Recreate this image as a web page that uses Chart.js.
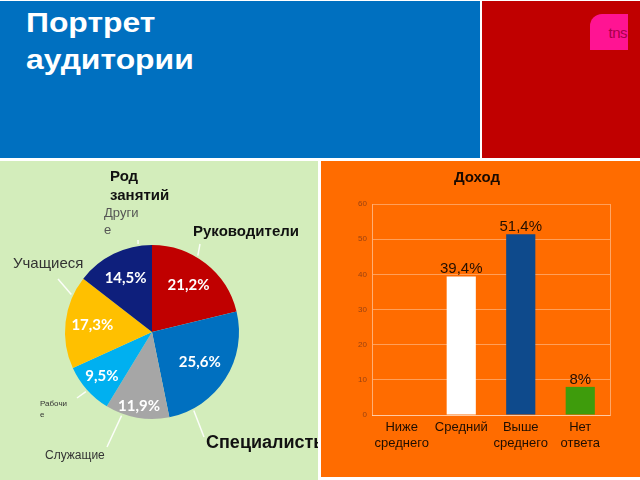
<!DOCTYPE html>
<html>
<head>
<meta charset="utf-8">
<script src="https://cdn.jsdelivr.net/npm/chart.js"></script>
<style>
  html, body { margin: 0; padding: 0; background: #fff; }
  body { width: 640px; height: 480px; position: relative; overflow: hidden; font-family: "Liberation Sans", Arial, sans-serif; }
  .panel { position: absolute; }
  #head { left: 0; top: 1px; width: 480px; height: 157px; background: #0070C0; }
  #corner { left: 482px; top: 1px; width: 158px; height: 157px; background: #C00000; }
  #left { left: 0; top: 161px; width: 318px; height: 319px; background: #D3EDBB; }
  #right { left: 321px; top: 161px; width: 319px; height: 316px; background: #FF6C00; }
  .title { position: absolute; left: 26px; color: #fff; font-weight: bold; font-size: 27px; line-height: 27px;
           transform: scaleX(1.18); transform-origin: 0 0; white-space: nowrap; }
  #logo { position: absolute; left: 590px; top: 14px; width: 38px; height: 36px; background: #FF1493;
          border-top-left-radius: 12px; }
  #logo span { position: absolute; right: 1px; top: 10px; font-size: 15px; color: #A8004A; letter-spacing: -0.5px; }
  canvas { position: absolute; }
</style>
</head>
<body>
<div class="panel" id="head"></div>
<div class="panel" id="corner"></div>
<div class="panel" id="left"></div>
<div class="panel" id="right"></div>
<div class="title" style="top:10px">Портрет</div>
<div class="title" style="top:47px">аудитории</div>
<div id="logo"><span>tns</span></div>
<canvas id="pie" width="318" height="319" style="left:0;top:161px"></canvas>
<canvas id="bar" width="319" height="316" style="left:321px;top:161px"></canvas>
<script>
// Род занятий
const jobLabels = ['Руководители', 'Специалисты', 'Служащие', 'Рабочие', 'Учащиеся', 'Другие'];
const jobValues = [21.2, 25.6, 11.9, 9.5, 17.3, 14.5];
const jobColors = ['#C00000', '#0070C0', '#A6A6A6', '#00B0F0', '#FFC000', '#0E1F7C'];

// Доход
const incomeLabels = [['Ниже', 'среднего'], 'Средний', ['Выше', 'среднего'], ['Нет', 'ответа']];
const incomeValues = [null, 39.4, 51.4, 8];
const incomeColors = ['#FFFFFF', '#FFFFFF', '#0E4A8C', '#3E9C0C'];
const incomeTicks = [0, 10, 20, 30, 40, 50, 60];

const fmt = v => String(v).replace('.', ',') + '%';

// where each outside label sits and where its leader line points
const pieNotes = [
    { lines: ['Руководители'], x: 193, y: 71, font: 'bold 15px "Liberation Sans"', color: '#111', angle: 31, end: [200, 83] },
    { lines: ['Специалисты'], x: 206, y: 282, font: 'bold 18px "Liberation Sans"', color: '#111', angle: 152, end: [204, 276] },
    { lines: ['Служащие'], x: 45, y: 295, font: '12px "Liberation Sans"', color: '#333', angle: 200, end: [107, 286] },
    { lines: ['Рабочи', 'е'], x: 40, y: 243, lh: 11, font: '8px "Liberation Sans"', color: '#333', angle: 228, end: [77, 237] },
    { lines: ['Учащиеся'], x: 13, y: 103, font: '15px "Liberation Sans"', color: '#333', angle: 295, end: [58, 118] },
    { lines: ['Други', 'е'], x: 104, y: 52, lh: 17, font: '13px "Liberation Sans"', color: '#555', angle: 351, end: [138, 79] }
];
const insideDepth = [0.68, 0.65, 0.87, 0.77, 0.69, 0.69];

const pieLabels = {
    id: 'pieLabels',
    afterDatasetsDraw(chart) {
        const ctx = chart.ctx;
        const arcs = chart.getDatasetMeta(0).data;
        ctx.save();
        ctx.textBaseline = 'middle';
        // values inside the slices
        ctx.fillStyle = '#fff';
        ctx.font = 'bold 15px Lato';
        ctx.textAlign = 'center';
        arcs.forEach((arc, i) => {
            const mid = (arc.startAngle + arc.endAngle) / 2;
            const r = arc.outerRadius * insideDepth[i];
            ctx.fillText(fmt(jobValues[i]), arc.x + Math.cos(mid) * r, arc.y + Math.sin(mid) * r);
        });
        // leader lines
        const a0 = arcs[0];
        ctx.strokeStyle = 'rgba(255,255,255,0.9)';
        ctx.lineWidth = 1.5;
        pieNotes.forEach(n => {
            const a = (n.angle - 90) * Math.PI / 180;
            const r = a0.outerRadius + 2;
            ctx.beginPath();
            ctx.moveTo(a0.x + Math.cos(a) * r, a0.y + Math.sin(a) * r);
            ctx.lineTo(n.end[0], n.end[1]);
            ctx.stroke();
        });
        // outside names
        ctx.textAlign = 'left';
        pieNotes.forEach(n => {
            ctx.font = n.font;
            ctx.fillStyle = n.color;
            n.lines.forEach((t, k) => ctx.fillText(t, n.x, n.y + k * (n.lh || 0)));
        });
        // chart title
        ctx.font = 'bold 15px "Liberation Sans"';
        ctx.fillStyle = '#111';
        ctx.fillText('Род', 110, 16);
        ctx.fillText('занятий', 110, 35);
        ctx.restore();
    }
};

new Chart(document.getElementById('pie'), {
    type: 'pie',
    data: {
        labels: jobLabels,
        datasets: [{
            data: jobValues,
            backgroundColor: jobColors,
            borderWidth: 0
        }]
    },
    options: {
        responsive: false,
        animation: false,
        layout: { padding: { left: 65, right: 79, top: 84, bottom: 61 } },
        plugins: { legend: { display: false }, tooltip: { enabled: false } }
    },
    plugins: [pieLabels]
});

const barLabels = {
    id: 'barLabels',
    afterDatasetsDraw(chart) {
        const ctx = chart.ctx;
        const area = chart.chartArea;
        ctx.save();
        // right edge of the plot box
        ctx.strokeStyle = 'rgba(255,255,255,0.4)';
        ctx.lineWidth = 1;
        ctx.beginPath();
        ctx.moveTo(area.right + 0.5, area.top);
        ctx.lineTo(area.right + 0.5, area.bottom);
        ctx.stroke();
        ctx.fillStyle = '#241000';
        ctx.font = '15px "Liberation Sans"';
        ctx.textAlign = 'center';
        ctx.textBaseline = 'alphabetic';
        chart.getDatasetMeta(0).data.forEach((bar, i) => {
            if (incomeValues[i] == null) return;
            ctx.fillText(fmt(incomeValues[i]), bar.x, bar.y - 3);
        });
        ctx.font = 'bold 15px "Liberation Sans"';
        ctx.fillStyle = '#1A0A00';
        ctx.textBaseline = 'middle';
        ctx.fillText('Доход', 156, 17);
        ctx.restore();
    }
};

new Chart(document.getElementById('bar'), {
    type: 'bar',
    data: {
        labels: incomeLabels,
        datasets: [{
            data: incomeValues,
            backgroundColor: incomeColors,
            borderWidth: 0,
            categoryPercentage: 1,
            barPercentage: 0.49
        }]
    },
    options: {
        responsive: false,
        animation: false,
        layout: { padding: { left: 0, right: 30, top: 43, bottom: 0 } },
        plugins: { legend: { display: false }, tooltip: { enabled: false } },
        scales: {
            x: {
                grid: { display: false, drawTicks: false },
                border: { color: 'rgba(255,255,255,0.45)' },
                ticks: { color: '#1E0E00', font: { size: 13, family: 'Liberation Sans' }, padding: 5, maxRotation: 0 },
                afterFit: s => { s.height = 62; }
            },
            y: {
                min: incomeTicks[0],
                max: incomeTicks[incomeTicks.length - 1],
                afterBuildTicks: s => { s.ticks = incomeTicks.map(v => ({ value: v })); },
                grid: { color: 'rgba(255,255,255,0.35)', drawTicks: false },
                border: { color: 'rgba(255,255,255,0.45)' },
                ticks: { color: '#9A4210', font: { size: 8, family: 'Liberation Sans' }, padding: 5 },
                afterFit: s => { s.width = 51; }
            }
        }
    },
    plugins: [barLabels]
});
</script>
</body>
</html>
